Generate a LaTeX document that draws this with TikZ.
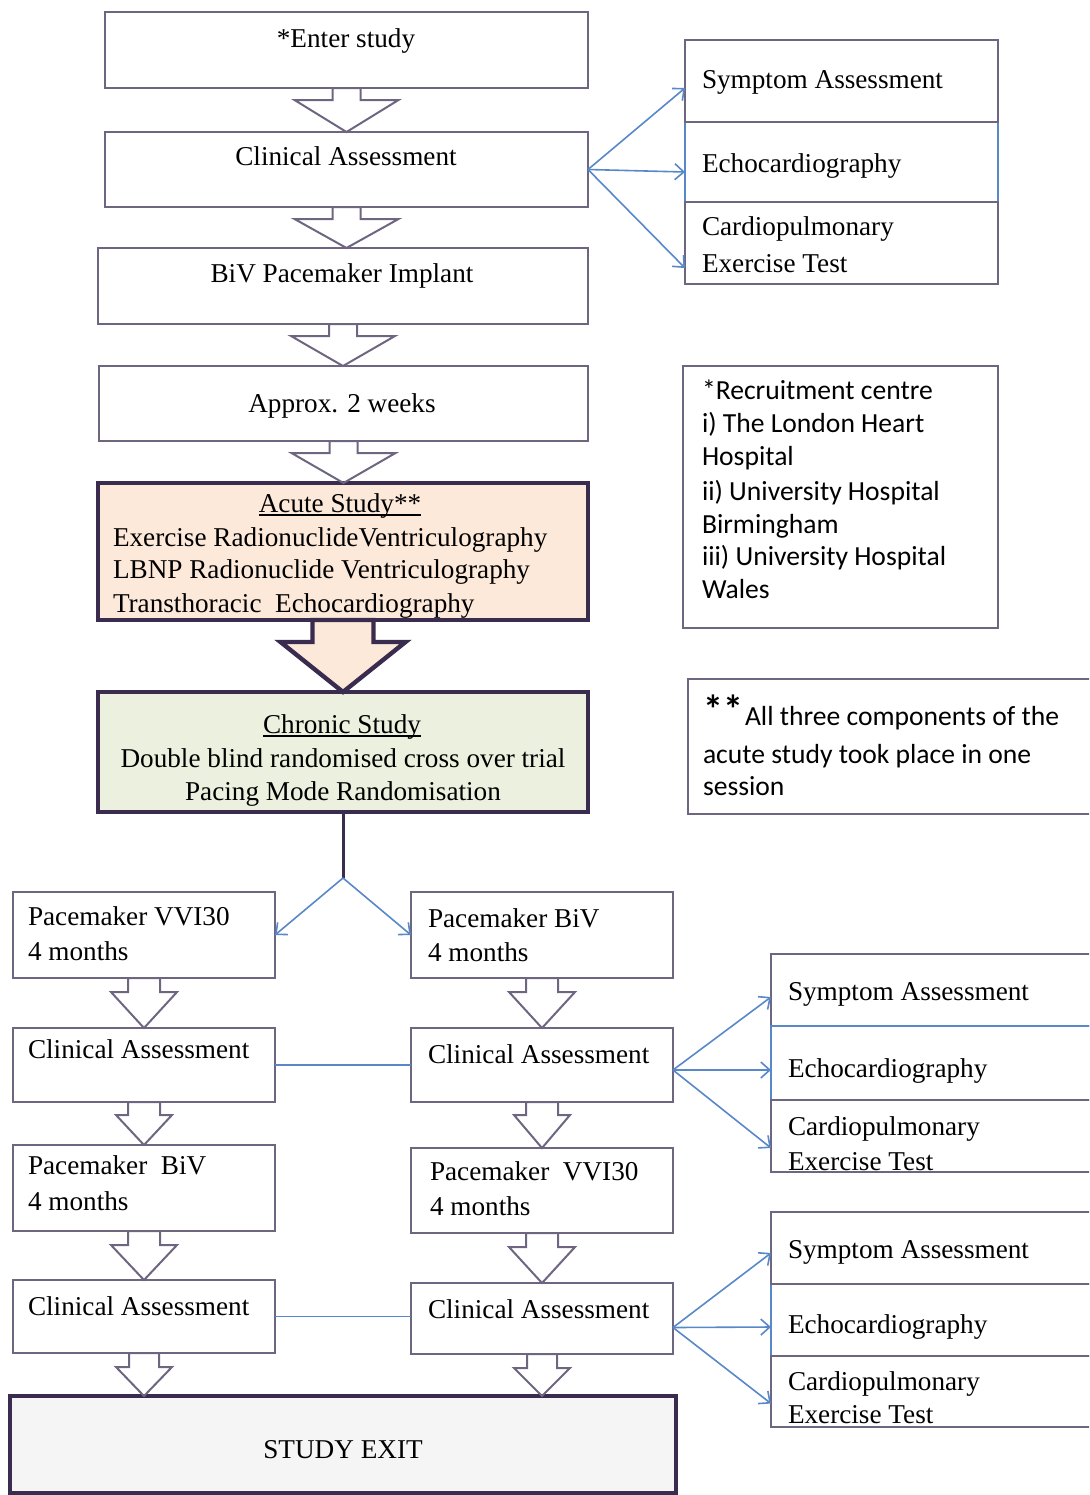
\documentclass[tikz,border=0pt]{standalone}
\usepackage{fontspec}
\setmainfont{Liberation Serif}
\newfontfamily\calib{Carlito}
\usetikzlibrary{calc,arrows.meta}

\definecolor{boxline}{RGB}{110,102,128}
\definecolor{darkline}{RGB}{58,44,78}
\definecolor{linkblue}{RGB}{88,136,200}
\definecolor{acutefill}{RGB}{253,233,217}
\definecolor{chronicfill}{RGB}{235,241,222}
\definecolor{exitfill}{RGB}{245,245,245}

\tikzset{
  thinbox/.style={draw=boxline, line width=1pt, inner sep=0pt, outer sep=0pt},
  bluebox/.style={draw=linkblue, line width=1pt, inner sep=0pt, outer sep=0pt},
  thickbox/.style={draw=darkline, line width=2.2pt, inner sep=0pt, outer sep=0pt},
  stxt/.style={inner sep=0pt, outer sep=0pt, font=\fontsize{13.6}{16}\selectfont},
  ctxt/.style={inner sep=0pt, outer sep=0pt, font=\calib\fontsize{13.8}{16}\selectfont},
  hollowarrow/.style={draw=boxline, line width=1pt},
  bigarrow/.style={draw=darkline, line width=2.2pt, fill=acutefill},
  fanarrow/.style={draw=linkblue, line width=0.8pt, -{Straight Barb[length=4.5pt,width=8pt]}},
  bluelink/.style={draw=linkblue, line width=0.8pt},
  stem/.style={draw=darkline, line width=1.5pt},
}

% box from corner (x1,y1) to (x2,y2) in pixel-like units
\newcommand\pbox[6][]{%
  \node[#1, minimum width={(#4-#2)*0.5pt}, minimum height={(#5-#3)*0.5pt}] (#6)
    at ({(#2+#4)/2},{(#3+#5)/2}) {};}

% block arrow: style, from, to, half shaft width, half head width, shaft length
\newcommand\blockarrow[6]{%
  \path[#1] let \p1=(#2.south), \p2=(#3.north) in
    (\x1-#4,\y1) -- (\x1-#4,\y1-#6) -- (\x1-#5,\y1-#6) -- (\x1,\y2)
    -- (\x1+#5,\y1-#6) -- (\x1+#4,\y1-#6) -- (\x1+#4,\y1) -- cycle;}

\begin{document}
\begin{tikzpicture}[x=0.5pt, y=-0.5pt]
\useasboundingbox (0,0) rectangle (1089,1495);
\clip (0,0) rectangle (1089,1495);

% main column
\pbox[thinbox]{105}{12}{588}{88}{enter}
\pbox[thinbox]{105}{132}{588}{207}{ca0}
\pbox[thinbox]{98}{248}{588}{324}{implant}
\pbox[thinbox]{99}{366}{588}{441}{weeks}
\pbox[thickbox, fill=acutefill]{98}{483}{588}{620}{acute}
\pbox[thickbox, fill=chronicfill]{98}{692}{588}{812}{chronic}

% assessments after the first clinical assessment
\pbox[bluebox]{685}{122}{998}{202}{echo0}
\pbox[thinbox]{685}{40}{998}{122}{symp0}
\pbox[thinbox]{685}{202}{998}{284}{cpet0}

% footnote boxes
\pbox[thinbox]{683}{366}{998}{628}{recruit}
\pbox[thinbox]{688}{679}{1100}{814}{note}

% crossover arms
\pbox[thinbox]{13}{892}{275}{978}{lpm1}
\pbox[thinbox]{13}{1028}{275}{1102}{lca1}
\pbox[thinbox]{13}{1145}{275}{1231}{lpm2}
\pbox[thinbox]{13}{1280}{275}{1353}{lca2}
\pbox[thinbox]{411}{892}{673}{978}{rpm1}
\pbox[thinbox]{411}{1028}{673}{1102}{rca1}
\pbox[thinbox]{411}{1148}{673}{1233}{rpm2}
\pbox[thinbox]{411}{1283}{673}{1354}{rca2}
\pbox[thickbox, fill=exitfill]{10}{1396}{676}{1493}{exit}

% assessment groups for the crossover arms
\pbox[thinbox]{771}{954}{1100}{1026}{symp1}
\pbox[bluebox]{771}{1026}{1100}{1100}{echo1}
\pbox[thinbox]{771}{1100}{1100}{1172}{cpet1}
\pbox[bluebox]{771}{1284}{1100}{1356}{echo2}
\pbox[thinbox]{771}{1212}{1100}{1284}{symp2}
\pbox[thinbox]{771}{1356}{1100}{1427}{cpet2}

% block arrows
\blockarrow{hollowarrow}{enter}{ca0}{7pt}{26pt}{6pt}
\blockarrow{hollowarrow}{ca0}{implant}{7pt}{26pt}{6pt}
\blockarrow{hollowarrow}{implant}{weeks}{7pt}{26pt}{6pt}
\blockarrow{hollowarrow}{weeks}{acute}{7pt}{26pt}{6pt}
\blockarrow{bigarrow}{acute}{chronic}{15.25pt}{31.25pt}{11pt}
\blockarrow{hollowarrow}{lpm1}{lca1}{8pt}{16.5pt}{7pt}
\blockarrow{hollowarrow}{lca1}{lpm2}{8pt}{14pt}{6.5pt}
\blockarrow{hollowarrow}{lpm2}{lca2}{8pt}{16.5pt}{7pt}
\blockarrow{hollowarrow}{lca2}{exit}{7.5pt}{14pt}{7pt}
\blockarrow{hollowarrow}{rpm1}{rca1}{8pt}{16.5pt}{7pt}
\blockarrow{hollowarrow}{rca1}{rpm2}{8pt}{14pt}{6.5pt}
\blockarrow{hollowarrow}{rpm2}{rca2}{8pt}{16.5pt}{7pt}
\blockarrow{hollowarrow}{rca2}{exit}{7.5pt}{14pt}{7pt}

% split into the two arms
\coordinate (split) at ($(chronic.south)+(0,66)$);
\draw[stem] (chronic.south) -- (split);
\draw[fanarrow] (split) -- (lpm1.east);
\draw[fanarrow] (split) -- (rpm1.west);

% links between the two arms
\draw[bluelink] (lca1.east) -- (rca1.west);
\draw[bluelink] (lca2.east) -- (lca2.east -| rca2.west);

% fans to assessment groups
\draw[fanarrow] (ca0.east) -- ($(symp0.west)+(0,7)$);
\draw[fanarrow] (ca0.east) -- ($(echo0.west)+(0,10)$);
\draw[fanarrow] (ca0.east) -- ($(cpet0.west)+(0,25)$);
\coordinate (fan1) at ($(rca1.east)+(0,5)$);
\draw[fanarrow] (fan1) -- ($(symp1.west)+(0,7)$);
\draw[fanarrow] (fan1) -- ($(echo1.west)+(0,7)$);
\draw[fanarrow] (fan1) -- ($(cpet1.west)+(0,12)$);
\coordinate (fan2) at ($(rca2.east)+(0,9)$);
\draw[fanarrow] (fan2) -- ($(symp2.west)+(0,5)$);
\draw[fanarrow] (fan2) -- ($(echo2.west)+(0,7)$);
\draw[fanarrow] (fan2) -- ($(cpet2.west)+(0,12)$);

% texts: main column
\node[stxt, anchor=base] (tEnter) at (346,47) {*Enter study};
\node[stxt, anchor=base] (tCa0) at (346,165) {Clinical Assessment};
\node[stxt, anchor=base] (tImplant) at (342,282) {BiV Pacemaker Implant};
\node[stxt, anchor=base] (tWeeks) at (342,412) {Approx. 2 weeks};
\node[stxt, anchor=base] (tAcute) at (340,512) {Acute Study**};
\draw[line width=0.6pt] ($(tAcute.base west)+(0,3)$) -- ($(tAcute.base east)+(0,3)$);
\node[stxt, anchor=base west] (tAcute1) at (113,546) {Exercise RadionuclideVentriculography};
\node[stxt, anchor=base west] (tAcute2) at (113,578) {LBNP Radionuclide Ventriculography};
\node[stxt, anchor=base west] (tAcute3) at (113,612) {Transthoracic\ \ Echocardiography};
\node[stxt, anchor=base] (tChronic) at (342,733) {Chronic Study};
\draw[line width=0.6pt] ($(tChronic.base west)+(0,3)$) -- ($(tChronic.base east)+(0,3)$);
\node[stxt, anchor=base] (tChronic1) at (343,767) {Double blind randomised cross over trial};
\node[stxt, anchor=base] (tChronic2) at (343,800) {Pacing Mode Randomisation};

% texts: first assessment group
\node[stxt, anchor=base west] (tSymp0) at (702,88) {Symptom Assessment};
\node[stxt, anchor=base west] (tEcho0) at (702,172) {Echocardiography};
\node[stxt, anchor=base west] (tCpet0a) at (702,235) {Cardiopulmonary};
\node[stxt, anchor=base west] (tCpet0b) at (702,272) {Exercise Test};

% texts: footnotes
\node[ctxt, anchor=base west] (tRec1) at (702,399) {*Recruitment centre};
\node[ctxt, anchor=base west] (tRec2) at (702,432) {i) The London Heart};
\node[ctxt, anchor=base west] (tRec3) at (702,465) {Hospital};
\node[ctxt, anchor=base west] (tRec4) at (702,500) {ii) University Hospital};
\node[ctxt, anchor=base west] (tRec5) at (702,533) {Birmingham};
\node[ctxt, anchor=base west] (tRec6) at (702,565) {iii) University Hospital};
\node[ctxt, anchor=base west] (tRec7) at (702,598) {Wales};
\node[inner sep=0pt, anchor=base west, font=\calib\bfseries\fontsize{20}{22}\selectfont] (tStars) at (703,723) {**};
\node[ctxt, anchor=base west] (tNote1) at (745,725) {All three components of the};
\node[ctxt, anchor=base west] (tNote2) at (703,763) {acute study took place in one};
\node[ctxt, anchor=base west] (tNote3) at (703,795) {session};

% texts: crossover arms
\node[stxt, anchor=base west] (tL1a) at (28,925) {Pacemaker VVI30};
\node[stxt, anchor=base west] (tL1b) at (28,960) {4 months};
\node[stxt, anchor=base west] (tL2) at (28,1058) {Clinical Assessment};
\node[stxt, anchor=base west] (tL3a) at (28,1174) {Pacemaker\ \ BiV};
\node[stxt, anchor=base west] (tL3b) at (28,1210) {4 months};
\node[stxt, anchor=base west] (tL4) at (28,1315) {Clinical Assessment};
\node[stxt, anchor=base west] (tR1a) at (428,927) {Pacemaker BiV};
\node[stxt, anchor=base west] (tR1b) at (428,961) {4 months};
\node[stxt, anchor=base west] (tR2) at (428,1063) {Clinical Assessment};
\node[stxt, anchor=base west] (tR3a) at (430,1180) {Pacemaker\ \ VVI30};
\node[stxt, anchor=base west] (tR3b) at (430,1215) {4 months};
\node[stxt, anchor=base west] (tR4) at (428,1318) {Clinical Assessment};
\node[stxt, anchor=base] (tExit) at (343,1458) {STUDY EXIT};

% texts: later assessment groups
\node[stxt, anchor=base west] (tSymp1) at (788,1000) {Symptom Assessment};
\node[stxt, anchor=base west] (tEcho1) at (788,1077) {Echocardiography};
\node[stxt, anchor=base west] (tCpet1a) at (788,1135) {Cardiopulmonary};
\node[stxt, anchor=base west] (tCpet1b) at (788,1170) {Exercise Test};
\node[stxt, anchor=base west] (tSymp2) at (788,1258) {Symptom Assessment};
\node[stxt, anchor=base west] (tEcho2) at (788,1333) {Echocardiography};
\node[stxt, anchor=base west] (tCpet2a) at (788,1390) {Cardiopulmonary};
\node[stxt, anchor=base west] (tCpet2b) at (788,1423) {Exercise Test};
\end{tikzpicture}
\end{document}
